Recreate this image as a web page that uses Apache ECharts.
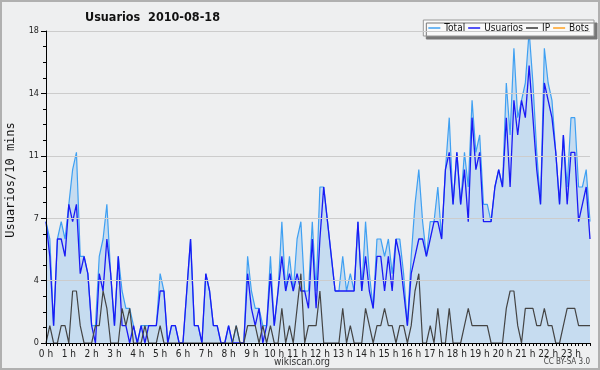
<!DOCTYPE html>
<html><head><meta charset="utf-8">
<script src="https://cdn.jsdelivr.net/npm/echarts@6/dist/echarts.min.js"></script>
<style>html,body{margin:0;padding:0;background:#eeeff0}#c{width:600px;height:370px}</style>
</head><body><div id="c"></div><script>
const hourLabels = ['0 h','1 h','2 h','3 h','4 h','5 h','6 h','7 h','8 h','9 h','10 h','11 h','12 h','13 h','14 h','15 h','16 h','17 h','18 h','19 h','20 h','21 h','22 h','23 h'];
const yTicks = [0, 3.6, 7.2, 10.8, 14.4, 18];
const total = [7,6,1,6,7,6,8,10,11,5,5,4,1,1,5,6,8,4,1,5,3,2,2,1,
0,1,1,1,1,1,4,3,0,1,1,0,0,3,6,1,1,0,4,3,1,1,0,0,
1,0,1,0,0,5,3,2,2,1,1,5,1,3,7,3,5,3,6,7,3,3,7,3,
9,9,7,5,3,3,5,3,4,3,7,3,7,4,2,6,6,5,6,4,6,6,4,1,
5,8,10,7,5,7,7,9,6,10,13,8,11,8,11,9,14,11,12,8,8,7,9,10,
9,15,12,17,13,14,15,18,15,11,8,17,15,14,11,8,12,9,13,13,9,9,10,7];
const usuarios = [7,5,1,6,6,5,8,7,8,4,5,4,1,0,4,3,6,4,1,5,1,1,0,1,
0,1,0,1,1,1,3,3,0,1,1,0,0,3,6,1,1,0,4,3,1,1,0,0,
1,0,0,0,0,4,2,1,2,0,1,4,1,3,5,3,4,3,4,3,3,2,6,2,
6,9,7,5,3,3,3,3,3,3,7,3,5,3,2,5,5,3,5,3,6,5,3,1,
4,5,6,6,5,6,7,7,6,10,11,8,11,8,10,7,13,10,11,7,7,7,9,10,
9,13,9,14,12,14,13,16,13,10,8,15,14,13,11,8,12,8,11,11,7,8,9,6];
const ip = [0,1,0,0,1,1,0,3,3,1,0,0,0,1,1,3,2,0,0,0,2,1,2,0,
0,0,1,0,0,0,1,0,0,0,0,0,0,0,0,0,0,0,0,0,0,0,0,0,
0,0,1,0,0,1,1,1,0,1,0,1,0,0,2,0,1,0,2,4,0,1,1,1,
3,0,0,0,0,0,2,0,1,0,0,0,2,1,0,1,1,2,1,1,0,1,1,0,
1,3,4,0,0,1,0,2,0,0,2,0,0,0,1,2,1,1,1,1,1,0,0,0,
0,2,3,3,1,0,2,2,2,1,1,2,1,1,0,0,1,2,2,2,1,1,1,1];
const bots = [0,0,0,0,0,0,0,0,0,0,0,0,0,0,0,0,0,0,0,0,0,0,0,0,
0,0,0,0,0,0,0,0,0,0,0,0,0,0,0,0,0,0,0,0,0,0,0,0,
0,0,0,0,0,0,0,0,0,0,0,0,0,0,0,0,0,0,0,0,0,0,0,0,
0,0,0,0,0,0,0,0,0,0,0,0,0,0,0,0,0,0,0,0,0,0,0,0,
0,0,0,0,0,0,0,0,0,0,0,0,0,0,0,0,0,0,0,0,0,0,0,0,
0,0,0,0,0,0,0,0,0,0,0,0,0,0,0,0,0,0,0,0,0,0,0,0];
const slots = total.map((_, i) => i);
const FONT = 'DejaVu Sans Condensed, DejaVu Sans';
const chart = echarts.init(document.getElementById('c'), null, {renderer: 'canvas'});
chart.setOption({
  animation: false,
  backgroundColor: '#eeeff0',
  title: {text: 'Usuarios  2010-08-18', left: 85, top: 11, padding: 0,
    textStyle: {fontFamily: FONT, fontSize: 12.5, fontWeight: 'bold', color: '#111'}},
  legend: {right: 6, top: 20, padding: [3, 5, 3, 5], itemGap: 3, itemWidth: 12, itemHeight: 1.5,
    icon: 'rect', backgroundColor: '#f9f9f9', borderColor: '#999', borderWidth: 1,
    shadowColor: '#777', shadowOffsetX: 3, shadowOffsetY: 3, shadowBlur: 0,
    textStyle: {fontFamily: FONT, fontSize: 10, color: '#111', padding: [0,0,0,-1]},
    data: [{name: 'Total', itemStyle: {color: '#3fa0f2'}}, {name: 'Usuarios', itemStyle: {color: '#1a1af5'}},
           {name: 'IP', itemStyle: {color: '#333'}}, {name: 'Bots', itemStyle: {color: '#ffa020'}}]},
  grid: {left: 46, right: 10, top: 31, bottom: 27},
  xAxis: {type: 'category', data: slots, boundaryGap: false, z: 5,
    axisLine: {lineStyle: {color: '#000', width: 1}},
    axisTick: {interval: 0, length: 3, lineStyle: {color: '#000'}},
    axisLabel: {interval: 5, margin: 6, fontFamily: FONT, fontSize: 10, color: '#222',
      formatter: (v, i) => hourLabels[i / 6]},
    splitLine: {show: false}},
  yAxis: {type: 'value', min: yTicks[0], max: yTicks[yTicks.length - 1], interval: 3.6, z: 5,
    axisLine: {show: true, lineStyle: {color: '#000'}},
    axisTick: {show: true, length: 5, lineStyle: {color: '#000'}},
    minorTick: {show: true, splitNumber: 4, length: 3, lineStyle: {color: '#000'}},
    axisLabel: {margin: 7, fontFamily: FONT, fontSize: 9, color: '#222', formatter: v => Math.round(v)},
    splitLine: {lineStyle: {color: '#cccccc', width: 1}}},
  graphic: [
    {type: 'rect', shape: {x: 1, y: 1, width: 598, height: 368}, style: {fill: 'none', stroke: '#b0b0b0', lineWidth: 2}, z: 100},
    {type: 'text', x: 11, y: 180, rotation: Math.PI / 2, style: {text: 'Usuarios/10 mins', font: '12px DejaVu Sans Mono', fill: '#111', textAlign: 'center', textVerticalAlign: 'middle'}},
    {type: 'text', x: 302, y: 362, style: {text: 'wikiscan.org', font: '10px ' + FONT, fill: '#333', textAlign: 'center', textVerticalAlign: 'middle'}},
    {type: 'text', x: 590, y: 362, style: {text: 'CC BY-SA 3.0', font: '8px ' + FONT, fill: '#444', textAlign: 'right', textVerticalAlign: 'middle'}}
  ],
  series: [
    {name: 'Bots', type: 'line', data: bots, symbol: 'none', z: 1, lineStyle: {color: '#ffa020', width: 1.2}, itemStyle: {color: '#ffa020'}},
    {name: 'Total', type: 'line', data: total, symbol: 'none', z: 2, lineStyle: {color: '#3fa0f2', width: 1.2}, itemStyle: {color: '#3fa0f2'},
      areaStyle: {color: '#c6dcf0', opacity: 1}},
    {name: 'Usuarios', type: 'line', data: usuarios, symbol: 'none', z: 3, lineStyle: {color: '#1a1af5', width: 1.3}, itemStyle: {color: '#1a1af5'}},
    {name: 'IP', type: 'line', data: ip, symbol: 'none', z: 4, lineStyle: {color: '#444', width: 1.2}, itemStyle: {color: '#444'}}
  ]
});
</script></body></html>
